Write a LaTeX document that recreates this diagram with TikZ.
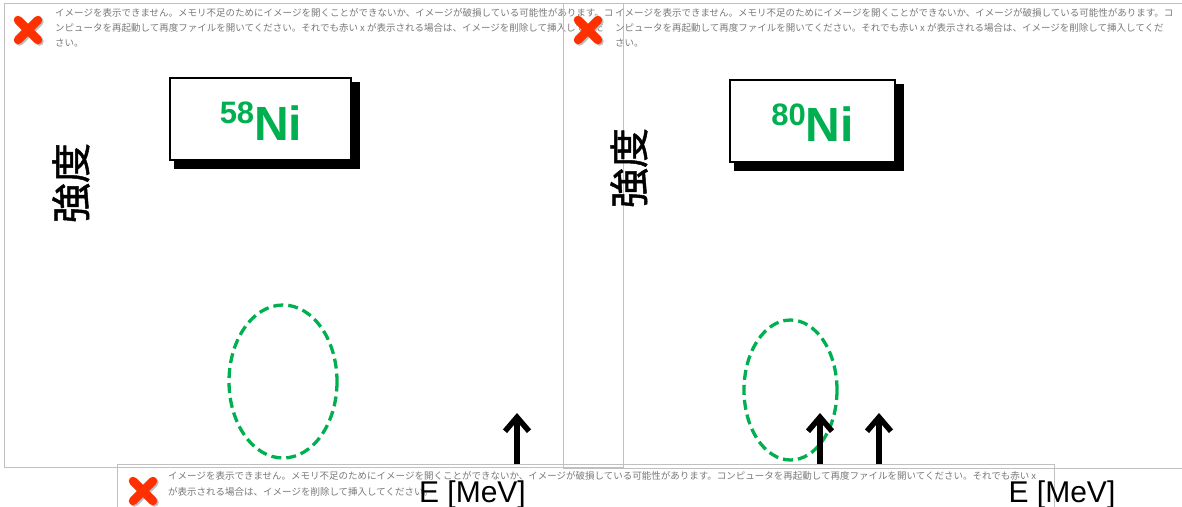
\documentclass[tikz,border=0pt]{standalone}
\usepackage{fontspec}
\setmainfont{Liberation Sans}
\newfontfamily\jp{Noto Sans CJK JP}
\newfontfamily\jpb{Noto Sans CJK JP}[FakeBold=1.2]
\usetikzlibrary{arrows.meta}
\definecolor{ngreen}{RGB}{0,176,80}
\definecolor{framegray}{RGB}{192,192,192}
\definecolor{msggray}{RGB}{120,120,120}
\definecolor{xred}{RGB}{255,48,0}
\begin{document}
\begin{tikzpicture}[x=1pt,y=-1pt,
  frameline/.style={draw=framegray,line width=0.9pt},
  msg/.style={anchor=base west,inner sep=0pt,text=msggray,font=\jp\fontsize{9.5}{9.5}\selectfont},
  xmark/.style={draw=xred,line width=8.5pt,line cap=round},
  xshadow/.style={draw=black!25,line width=8.5pt,line cap=round},
  nibox/.style={draw=black,line width=2pt,fill=white,minimum width=180.4pt,minimum height=81.4pt,inner sep=0pt},
  nitext/.style={anchor=base,inner sep=0pt,text=ngreen,font=\bfseries\fontsize{48}{48}\selectfont},
  ylab/.style={rotate=90,inner sep=0pt,font=\jpb\fontsize{40}{40}\selectfont},
  elab/.style={anchor=base,inner sep=0pt,font=\fontsize{30}{30}\selectfont},
  peak/.style={draw=ngreen,line width=3.3pt,dash pattern=on 10pt off 5pt},
  arr/.style={draw=black,line width=5.5pt,-{Straight Barb[length=14pt,width=24pt]}}
]
\useasboundingbox (0,0) rectangle (1182,506);
% frame 1
\draw[frameline] (4,3.5) rectangle (623,467);
\draw[xshadow] (19.5,21.5) -- (39.5,41.5);
\draw[xshadow] (39.5,21.5) -- (19.5,41.5);
\draw[xmark] (18,20) -- (38,40);
\draw[xmark] (38,20) -- (18,40);
\node[msg] (m1a) at (55,16.5) {イメージを表示できません。メモリ不足のためにイメージを開くことができないか、イメージが破損している可能性があります。コ};
\node[msg] (m1b) at (55,31.5) {ンピュータを再起動して再度ファイルを開いてください。それでも赤い x が表示される場合は、イメージを削除して挿入してくだ};
\node[msg] (m1c) at (55,46.5) {さい。};
% frame 2
\draw[frameline] (1190,3.5) -- (563,3.5) -- (563,468) -- (1190,468);
\draw[xshadow] (579.5,21.5) -- (599.5,41.5);
\draw[xshadow] (599.5,21.5) -- (579.5,41.5);
\draw[xmark] (578,20) -- (598,40);
\draw[xmark] (598,20) -- (578,40);
\node[msg] (m2a) at (615,16.5) {イメージを表示できません。メモリ不足のためにイメージを開くことができないか、イメージが破損している可能性があります。コ};
\node[msg] (m2b) at (615,31.5) {ンピュータを再起動して再度ファイルを開いてください。それでも赤い x が表示される場合は、イメージを削除して挿入してくだ};
\node[msg] (m2c) at (615,46.5) {さい。};
% frame 3
\draw[frameline] (117,510) -- (117,464.5) -- (1054,464.5) -- (1054,510);
\draw[xshadow] (134.5,482.5) -- (154.5,502.5);
\draw[xshadow] (154.5,482.5) -- (134.5,502.5);
\draw[xmark] (133,481) -- (153,501);
\draw[xmark] (153,481) -- (133,501);
\node[msg] (m3a) at (168,479.5) {イメージを表示できません。メモリ不足のためにイメージを開くことができないか、イメージが破損している可能性があります。コンピュータを再起動して再度ファイルを開いてください。それでも赤い x};
\node[msg] (m3b) at (168,495.5) {が表示される場合は、イメージを削除して挿入してください。};
% peaks (dashed ellipses)
\draw[peak] (283,381.5) ellipse [x radius=54, y radius=76.5];
\draw[peak] (790.5,390) ellipse [x radius=46.5, y radius=70];
% arrows
\coordinate (a1s) at (517,464);
\coordinate (a1e) at (517,413);
\coordinate (a2s) at (820,464);
\coordinate (a2e) at (820,413);
\coordinate (a3s) at (879,464);
\coordinate (a3e) at (879,413);
\draw[arr] (a1s) -- (a1e);
\draw[arr] (a2s) -- (a2e);
\draw[arr] (a3s) -- (a3e);
% nucleus boxes
\fill[black] (174,82) rectangle (360,169);
\node[nibox] (box58) at (260.5,119) {};
\node[nitext] (t58) at (261,140) {{\fontsize{31}{31}\selectfont\raisebox{16.7pt}{58}}Ni};
\fill[black] (734,84) rectangle (904,171);
\node[nibox,minimum width=164.7pt] (box80) at (812.6,121) {};
\node[nitext] (t80) at (812.5,141.7) {{\fontsize{31}{31}\selectfont\raisebox{16.7pt}{80}}Ni};
% axis labels
\node[ylab] (y1) at (71,183) {強度};
\node[ylab] (y2) at (629,168) {強度};
\node[elab] (e1) at (472.5,502) {E [MeV]};
\node[elab] (e2) at (1062,502) {E [MeV]};
\end{tikzpicture}
\end{document}
